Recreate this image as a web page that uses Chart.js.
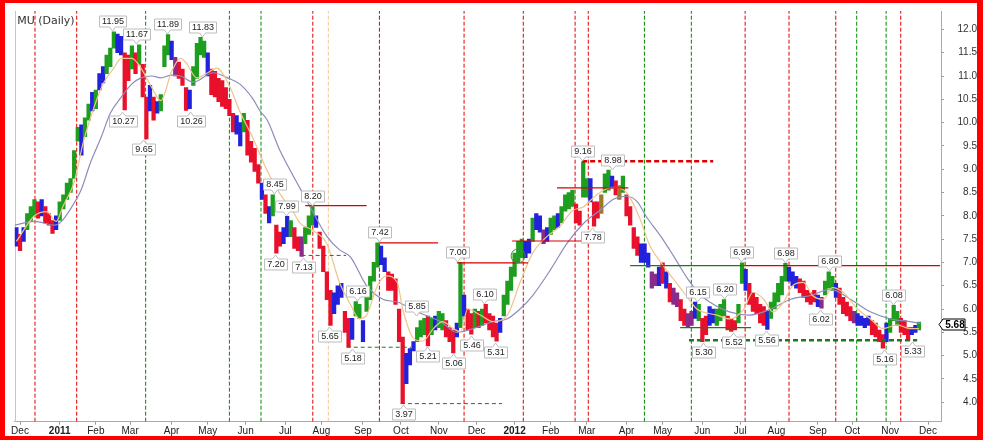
<!DOCTYPE html>
<html>
<head>
<meta charset="utf-8">
<title>MU (Daily)</title>
<script src="https://cdn.jsdelivr.net/npm/chart.js@4.4.1/dist/chart.umd.min.js"></script>
<style>
  html, body { margin: 0; padding: 0; background: #fff; }
  #frame { width: 983px; height: 440px; box-sizing: border-box; border-style: solid; border-color: #f00; border-width: 3px 6px 4px 5px; }
  #frame canvas { display: block; }
</style>
</head>
<body>
<div id="frame"><canvas id="chart" width="972" height="433"></canvas></div>
<script>
// trading-day index 0 = 1 Dec 2010, one bar every 2 sessions
const FIRST_BAR = -2;

const barHigh = [
  7.75, 7.60, 7.75, 8.05, 8.20, 8.35, 8.30, 8.35, 8.20, 8.05,
  7.90, 8.00, 8.30, 8.45, 8.70, 8.80, 9.40, 9.90, 9.95, 10.10,
  10.40, 10.65, 10.70, 11.05, 11.20, 11.45, 11.60, 11.95, 11.90, 11.85,
  11.50, 11.45, 11.65, 11.50, 11.67, 11.25, 10.55, 10.80, 10.55, 10.45,
  10.60, 11.65, 11.89, 11.75, 11.40, 11.30, 11.15, 10.75, 10.70, 11.20,
  11.70, 11.83, 11.75, 11.50, 11.15, 11.10, 10.95, 10.90, 10.75, 10.50,
  10.20, 10.15, 10.00, 10.20, 10.05, 9.60, 9.45, 9.10, 8.70, 8.45,
  8.20, 8.45, 7.80, 7.65, 7.75, 7.99, 7.90, 7.75, 7.55, 7.55,
  7.75, 8.00, 8.20, 8.00, 7.65, 7.35, 6.80, 6.40, 6.35, 6.50,
  6.55, 5.95, 5.80, 5.80, 6.16, 6.10, 5.75, 6.35, 6.70, 7.00,
  7.42, 7.35, 7.10, 6.80, 6.75, 6.65, 6.00, 5.40, 5.05, 5.15,
  5.30, 5.60, 5.75, 5.80, 5.85, 5.80, 5.85, 5.95, 5.90, 5.75,
  5.60, 5.55, 5.70, 7.00, 6.30, 6.00, 5.90, 6.00, 5.95, 6.00,
  6.10, 5.90, 5.85, 5.70, 5.80, 6.30, 6.60, 6.90, 7.20, 7.45,
  7.50, 7.45, 7.50, 7.95, 8.05, 8.00, 7.70, 7.75, 7.95, 8.00,
  8.05, 8.20, 8.45, 8.50, 8.55, 8.25, 8.10, 9.16, 8.80, 8.80,
  8.30, 8.30, 8.45, 8.90, 8.98, 8.85, 8.75, 8.65, 8.85, 8.45,
  8.20, 7.75, 7.55, 7.40, 7.40, 7.20, 6.80, 6.75, 6.90, 6.99,
  6.80, 6.55, 6.45, 6.35, 6.20, 6.00, 5.90, 5.95, 6.15, 6.10,
  5.80, 5.85, 6.05, 6.00, 6.00, 6.10, 6.20, 5.85, 5.80, 5.75,
  6.10, 6.99, 6.85, 6.55, 6.35, 6.25, 6.10, 6.05, 5.95, 6.15,
  6.35, 6.55, 6.70, 6.98, 6.90, 6.80, 6.70, 6.65, 6.60, 6.40,
  6.35, 6.40, 6.30, 6.25, 6.60, 6.80, 6.70, 6.55, 6.45, 6.25,
  6.15, 6.05, 5.95, 5.90, 5.85, 5.80, 5.85, 5.75, 5.70, 5.55,
  5.45, 5.70, 5.80, 6.08, 5.95, 5.80, 5.75, 5.60, 5.60, 5.65,
  5.72
];
const barLow = [
  7.35, 7.25, 7.45, 7.70, 7.90, 8.00, 7.95, 8.00, 7.85, 7.80,
  7.62, 7.70, 7.90, 8.15, 8.35, 8.50, 8.80, 9.60, 9.30, 9.70,
  10.05, 10.25, 10.30, 10.70, 10.85, 11.05, 11.20, 11.60, 11.50, 11.45,
  10.27, 10.90, 11.15, 11.05, 11.25, 10.55, 9.65, 10.25, 10.05, 10.20,
  10.25, 11.20, 11.45, 11.35, 11.00, 10.95, 10.80, 10.26, 10.30, 10.80,
  10.95, 11.45, 11.40, 11.00, 10.60, 10.55, 10.45, 10.35, 10.30, 10.15,
  9.80, 9.75, 9.50, 9.80, 9.30, 9.15, 8.95, 8.70, 8.35, 8.05,
  7.85, 8.00, 7.20, 7.35, 7.40, 7.55, 7.55, 7.30, 7.25, 7.13,
  7.40, 7.60, 7.80, 7.75, 7.30, 6.80, 6.20, 5.65, 5.90, 6.10,
  6.25, 5.50, 5.18, 5.35, 5.85, 5.80, 5.30, 5.95, 6.20, 6.60,
  6.90, 6.95, 6.80, 6.40, 6.40, 6.10, 5.30, 3.97, 4.40, 4.80,
  5.10, 5.30, 5.40, 5.45, 5.21, 5.45, 5.55, 5.60, 5.55, 5.40,
  5.30, 5.06, 5.40, 5.60, 5.85, 5.55, 5.46, 5.60, 5.60, 5.65,
  5.70, 5.55, 5.40, 5.31, 5.50, 5.85, 6.10, 6.40, 6.70, 7.00,
  7.10, 7.10, 7.20, 7.45, 7.70, 7.65, 7.40, 7.45, 7.60, 7.70,
  7.75, 7.85, 8.10, 8.15, 8.20, 7.85, 7.80, 8.40, 8.40, 8.30,
  7.78, 7.95, 8.05, 8.50, 8.55, 8.60, 8.45, 8.35, 8.50, 8.00,
  7.80, 7.30, 7.15, 7.00, 7.00, 6.90, 6.45, 6.50, 6.50, 6.55,
  6.45, 6.15, 6.10, 6.05, 5.75, 5.65, 5.62, 5.65, 5.80, 5.75,
  5.30, 5.45, 5.65, 5.70, 5.65, 5.75, 5.85, 5.55, 5.52, 5.55,
  5.70, 6.55, 6.40, 6.10, 5.95, 5.90, 5.70, 5.65, 5.56, 5.80,
  6.00, 6.15, 6.30, 6.60, 6.60, 6.50, 6.45, 6.35, 6.25, 6.15,
  6.10, 6.15, 6.05, 6.02, 6.30, 6.45, 6.40, 6.25, 6.10, 5.90,
  5.85, 5.75, 5.70, 5.65, 5.65, 5.60, 5.65, 5.45, 5.40, 5.30,
  5.16, 5.30, 5.50, 5.75, 5.65, 5.50, 5.45, 5.33, 5.45, 5.50,
  5.55
];
// G up, R down, B neutral, P / O mixed
const barColor = (
  'BRBGGGRBRR' + 'RBGGGGGGBG' + 'GBGBBGGGBB' + 'RRGRGRRBRB' + 'GGGBPRRRBG' +
  'GGGBRRRRRR' + 'RBBGRRRRBR' + 'BGRRBBGRRP' + 'GGGBRRRRBB' + 'BRRBGGBGGG' +
  'GBBRRRRRBB' + 'BGGGRGBGGR' + 'RRBGBRRGRG' + 'RRRRBGGGGG' + 'GBBGBBPBGG' +
  'BGGGGRRGGB' + 'RROGGBROGR' + 'RRRBBBPPBR' + 'BRPPRRPPBG' + 'RRBBGGGRRR' +
  'GGBRRRRRBG' + 'GGGGBBBRRR' + 'RRBPGGGBRR' + 'RRPBBBBRRR' + 'RBGGGRRRBB' +
  'G'
).split('');

// moving averages
const fastIdx = [-2, 8, 15, 20, 24, 30, 35, 41, 46, 52, 56, 62, 67, 73, 78, 84, 89, 92, 98, 104,
  109, 116, 122, 129, 137, 144, 151, 155, 162, 170, 177, 183, 188, 192, 198, 203, 209, 212, 218, 223,
  229, 234, 240, 244, 248, 255, 262, 270, 277, 284, 292, 299, 306, 312, 320, 328, 336, 343, 349, 355,
  362, 369, 375, 386, 393, 401, 406, 412, 417, 423, 428, 434, 439, 445, 450, 456, 464, 471, 478, 486,
  493, 498];
const fastVal = [7.45, 8.00, 8.09, 7.88, 8.22, 8.72, 9.57, 10.33, 10.83, 11.17, 11.38, 11.38, 11.17, 10.75, 10.47, 11.10, 11.38, 11.28, 10.96, 11.07,
  11.17, 10.79, 10.22, 9.67, 8.96, 8.47, 8.11, 7.85, 7.69, 7.40, 6.57, 6.10, 5.79, 5.87, 6.50, 6.71, 6.57, 6.00, 5.37, 5.31,
  5.58, 5.73, 5.58, 5.51, 6.00, 5.87, 5.73, 5.87, 6.57, 7.20, 7.56, 7.77, 8.11, 8.19, 8.47, 8.61, 8.50, 7.98, 7.35, 7.00,
  6.64, 6.29, 6.00, 5.87, 5.79, 6.00, 6.36, 6.21, 5.94, 6.15, 6.50, 6.57, 6.29, 6.21, 6.46, 6.36, 6.00, 5.79, 5.58, 5.66,
  5.58, 5.58];
const slowIdx = [-3, 8, 19, 23, 28, 34, 39, 45, 50, 56, 62, 67, 73, 78, 84, 89, 96, 107, 115, 122,
  129, 133, 137, 144, 155, 162, 170, 177, 183, 192, 201, 209, 220, 233, 242, 251, 262, 270, 277, 284,
  294, 303, 312, 321, 329, 336, 342, 347, 355, 362, 370, 377, 382, 393, 404, 416, 427, 438, 449, 460,
  471, 482, 493, 499];
const slowVal = [7.80, 7.88, 7.80, 7.88, 8.15, 8.57, 9.14, 9.69, 10.20, 10.54, 10.83, 10.96, 11.00, 10.96, 11.02, 11.00, 10.87, 11.07, 10.96, 10.82,
  10.51, 10.25, 10.05, 9.40, 8.60, 8.10, 7.56, 7.27, 7.12, 6.50, 6.21, 6.15, 5.94, 5.73, 5.50, 5.58, 5.73, 5.79, 6.00, 6.29,
  6.85, 7.41, 7.83, 8.11, 8.36, 8.42, 8.30, 7.98, 7.56, 7.14, 6.64, 6.30, 6.15, 5.94, 5.87, 6.00, 6.21, 6.29, 6.42, 6.21,
  5.94, 5.79, 5.73, 5.69];

// month ticks (trading-day index of the first session)
const monthIdx = [0, 22, 42, 61, 84, 104, 125, 147, 167, 190, 211, 232, 253, 274, 294, 314, 336, 356, 378, 399, 419, 442, 461, 482, 503];
const monthLbl = ['Dec', '2011', 'Feb', 'Mar', 'Apr', 'May', 'Jun', 'Jul', 'Aug', 'Sep', 'Oct', 'Nov', 'Dec',
  '2012', 'Feb', 'Mar', 'Apr', 'May', 'Jun', 'Jul', 'Aug', 'Sep', 'Oct', 'Nov', 'Dec'];
const priceTicks = [4.0, 4.5, 5.0, 5.5, 6.0, 6.5, 7.0, 7.5, 8.0, 8.5, 9.0, 9.5, 10.0, 10.5, 11.0, 11.5, 12.0];

// vertical marker lines
const vIdx = [8.3, 31.4, 69.6, 116, 133.5, 162.2, 170.8, 199.1, 246, 278.8, 307.5, 314.8, 345.9, 371.9, 401.7, 426, 451.9, 463.5, 479.8, 487.9];
const vKind = ['r', 'r', 'g', 'g', 'g', 'r', 'o', 'r', 'r', 'r', 'r', 'r', 'g', 'g', 'r', 'r', 'r', 'g', 'g', 'r'];

// support / resistance segments
const hFrom = [158, 156, 199, 181, 211, 242, 272.6, 297.5, 311.4, 338, 401.7, 365.7, 370.6];
const hTo = [192, 180.6, 231.6, 216.6, 267, 281.4, 312, 337, 384, 401.7, 509.7, 405, 497];
const hLevel = [8.22, 7.15, 7.42, 5.18, 3.97, 6.99, 7.46, 8.60, 9.17, 6.93, 6.93, 5.60, 5.33];
const hKind = ['res', 'sup', 'res', 'sup', 'sup', 'res', 'res', 'res', 'resMajor', 'supLine', 'res', 'supLine', 'supMajor'];

// swing high / low labels
const lblVal = [11.95, 11.67, 10.27, 9.65, 11.89, 11.83, 10.26, 8.45, 7.99, 8.20, 7.20, 7.13, 5.65, 5.18, 6.16, 7.42, 3.97, 5.85, 5.21, 5.06,
  7.00, 5.46, 6.10, 5.31, 9.16, 8.98, 7.78, 6.15, 6.20, 5.30, 5.52, 6.99, 5.56, 6.98, 6.02, 6.80, 6.08, 5.16, 5.33];
const lblIdx = [51, 64.3, 56.5, 68.1, 81.4, 100.8, 94.2, 140.7, 147.4, 161.8, 141.3, 156.8, 171.2, 183.9, 186.7, 198.9, 212.2, 219.4, 225.5, 239.9,
  242.1, 249.9, 257.1, 263.2, 311.4, 328, 316.9, 375.1, 390, 378.4, 395, 399.4, 413.3, 423.8, 443.2, 448.2, 483.7, 478.7, 494.2];
const lblSide = ['h', 'h', 'l', 'l', 'h', 'h', 'l', 'h', 'h', 'h', 'l', 'l', 'l', 'l', 'h', 'h', 'l', 'h', 'l', 'l',
  'h', 'l', 'h', 'l', 'h', 'h', 'l', 'h', 'h', 'l', 'l', 'h', 'l', 'h', 'l', 'h', 'h', 'l', 'l'];

const circleIdx = 275.9, circleVal = 7.14;
const lastPrice = 5.68;

const X_MIN = -2.94, X_MAX = 510.2;
const Y_MIN = 3.582, Y_MAX = 12.395;

const barPalette = { G: '#1e9e1e', R: '#e8102a', B: '#2222dd', P: '#8a2a8a', O: '#9a7a2a' };
const vStyle = {
  r: { color: '#e00000' },
  g: { color: '#008a00' },
  o: { color: '#f2c896' }
};
const hStyle = {
  res: { color: '#dd0000', width: 1.2, dash: [] },
  sup: { color: '#1c7a1c', width: 1, dash: [4, 3] },
  resMajor: { color: '#dd0000', width: 2.5, dash: [5, 3] },
  supLine: { color: '#1c7a1c', width: 1.2, dash: [] },
  supMajor: { color: '#1c7a1c', width: 2.5, dash: [5, 3] }
};

const datasets = [];

vIdx.forEach((v, k) => {
  datasets.push({
    type: 'line',
    data: [{ x: v, y: Y_MIN }, { x: v, y: Y_MAX }],
    borderColor: vStyle[vKind[k]].color,
    borderWidth: 1,
    borderDash: [4, 2],
    pointRadius: 0,
    order: 10
  });
});

datasets.push({
  type: 'bar',
  data: barHigh.map((h, k) => ({ x: FIRST_BAR + 2 * k, y: [barLow[k], h] })),
  backgroundColor: barColor.map(c => barPalette[c]),
  barThickness: 3.6,
  grouped: false,
  order: 5
});

datasets.push({
  type: 'line',
  data: slowIdx.map((x, k) => ({ x: x, y: slowVal[k] })),
  borderColor: '#8c8cbc',
  borderWidth: 1.2,
  pointRadius: 0,
  cubicInterpolationMode: 'monotone',
  order: 3
});
datasets.push({
  type: 'line',
  data: fastIdx.map((x, k) => ({ x: x, y: fastVal[k] })),
  borderColor: '#f0c48c',
  borderWidth: 1.2,
  pointRadius: 0,
  cubicInterpolationMode: 'monotone',
  order: 2
});

hLevel.forEach((lv, k) => {
  const st = hStyle[hKind[k]];
  datasets.push({
    type: 'line',
    data: [{ x: hFrom[k], y: lv }, { x: hTo[k], y: lv }],
    borderColor: st.color,
    borderWidth: st.width,
    borderDash: st.dash,
    pointRadius: 0,
    order: 1
  });
});

datasets.push({
  type: 'line',
  data: [{ x: circleIdx, y: circleVal }],
  showLine: false,
  pointRadius: 7,
  pointBorderColor: '#3a8a3a',
  pointBackgroundColor: 'rgba(0,0,0,0)',
  pointBorderWidth: 1,
  order: 0
});

// left frame line, title, swing labels and last price tag
const overlay = {
  id: 'overlay',
  beforeDatasetsDraw(chart) {
    const { ctx, chartArea: a } = chart;
    ctx.save();
    ctx.strokeStyle = '#c4c4c4';
    ctx.lineWidth = 1;
    ctx.beginPath();
    ctx.moveTo(Math.round(a.left) + 0.5, a.top);
    ctx.lineTo(Math.round(a.left) + 0.5, a.bottom);
    ctx.stroke();
    ctx.restore();
  },
  afterDatasetsDraw(chart) {
    const { ctx, chartArea: a, scales: { x, y } } = chart;
    ctx.save();
    ctx.font = '11px "DejaVu Sans"';
    ctx.fillStyle = '#333';
    ctx.textAlign = 'left';
    ctx.textBaseline = 'middle';
    ctx.fillText('MU (Daily)', a.left + 2.5, a.top + 10);

    ctx.font = '9px "Liberation Sans"';
    ctx.textAlign = 'center';
    ctx.lineWidth = 1;
    lblVal.forEach((v, k) => {
      const txt = v.toFixed(2);
      const px = Math.round(x.getPixelForValue(lblIdx[k])) + 0.5;
      const py = y.getPixelForValue(v);
      const up = lblSide[k] === 'h';
      const w = Math.round(ctx.measureText(txt).width) + 5, h = 11;
      const cy = Math.round(up ? py - 10.5 : py + 10.5);
      const l = Math.round(px - w / 2) + 0.5, r = l + w, t = cy - h / 2 + 0.5, b = t + h;
      ctx.beginPath();
      if (up) {
        ctx.moveTo(l, t); ctx.lineTo(r, t); ctx.lineTo(r, b);
        ctx.lineTo(px + 3, b); ctx.lineTo(px, b + 4); ctx.lineTo(px - 3, b);
        ctx.lineTo(l, b);
      } else {
        ctx.moveTo(l, t); ctx.lineTo(px - 3, t); ctx.lineTo(px, t - 4); ctx.lineTo(px + 3, t);
        ctx.lineTo(r, t); ctx.lineTo(r, b); ctx.lineTo(l, b);
      }
      ctx.closePath();
      ctx.fillStyle = '#fff';
      ctx.fill();
      ctx.strokeStyle = '#bdbdbd';
      ctx.stroke();
      ctx.fillStyle = '#222';
      ctx.fillText(txt, (l + r) / 2, cy + 1);
    });
    ctx.restore();
  },
  afterDraw(chart) {
    const { ctx, chartArea: a, scales: { y } } = chart;
    const cy = Math.round(y.getPixelForValue(lastPrice)) + 0.5;
    const tip = a.right - 2, l = a.right + 2, r = a.right + 24;
    ctx.save();
    ctx.beginPath();
    ctx.moveTo(tip, cy);
    ctx.lineTo(l, cy - 5.5);
    ctx.lineTo(r, cy - 5.5);
    ctx.lineTo(r, cy + 5.5);
    ctx.lineTo(l, cy + 5.5);
    ctx.closePath();
    ctx.fillStyle = '#fff';
    ctx.fill();
    ctx.strokeStyle = '#000';
    ctx.lineWidth = 1;
    ctx.stroke();
    ctx.font = 'bold 10px "Liberation Sans"';
    ctx.fillStyle = '#000';
    ctx.textAlign = 'center';
    ctx.textBaseline = 'middle';
    ctx.fillText(lastPrice.toFixed(2), (l + r) / 2 + 1, cy + 0.5);
    ctx.restore();
  }
};

new Chart(document.getElementById('chart'), {
  type: 'bar',
  data: { datasets: datasets },
  plugins: [overlay],
  options: {
    responsive: false,
    animation: false,
    events: [],
    layout: { padding: { left: 9.7, top: 1, right: 0, bottom: 0 } },
    plugins: { legend: { display: false }, tooltip: { enabled: false } },
    scales: {
      x: {
        type: 'linear',
        min: X_MIN,
        max: X_MAX,
        offset: false,
        grid: { drawOnChartArea: false, tickLength: 3, color: '#999', offset: false },
        border: { color: '#aaa' },
        afterBuildTicks: s => { s.ticks = monthIdx.map(v => ({ value: v })); },
        afterFit: s => { s.height = 14.3; },
        ticks: {
          autoSkip: false,
          maxRotation: 0,
          padding: 1,
          color: '#222',
          font: c => ({ family: 'Liberation Sans', size: 10, weight: /^\d{4}$/.test(monthLbl[c.index] || '') ? 'bold' : 'normal' }),
          callback: (v, i) => monthLbl[i]
        }
      },
      y: {
        position: 'right',
        min: Y_MIN,
        max: Y_MAX,
        grid: { drawOnChartArea: false, tickLength: 3, color: '#999' },
        border: { color: '#aaa' },
        afterBuildTicks: s => { s.ticks = priceTicks.map(v => ({ value: v })); },
        afterFit: s => { s.width = 36; },
        ticks: {
          padding: 2,
          crossAlign: 'far',
          color: '#333',
          font: { family: 'Liberation Sans', size: 10 },
          callback: v => v.toFixed(1)
        }
      }
    }
  }
});
</script>
</body>
</html>
